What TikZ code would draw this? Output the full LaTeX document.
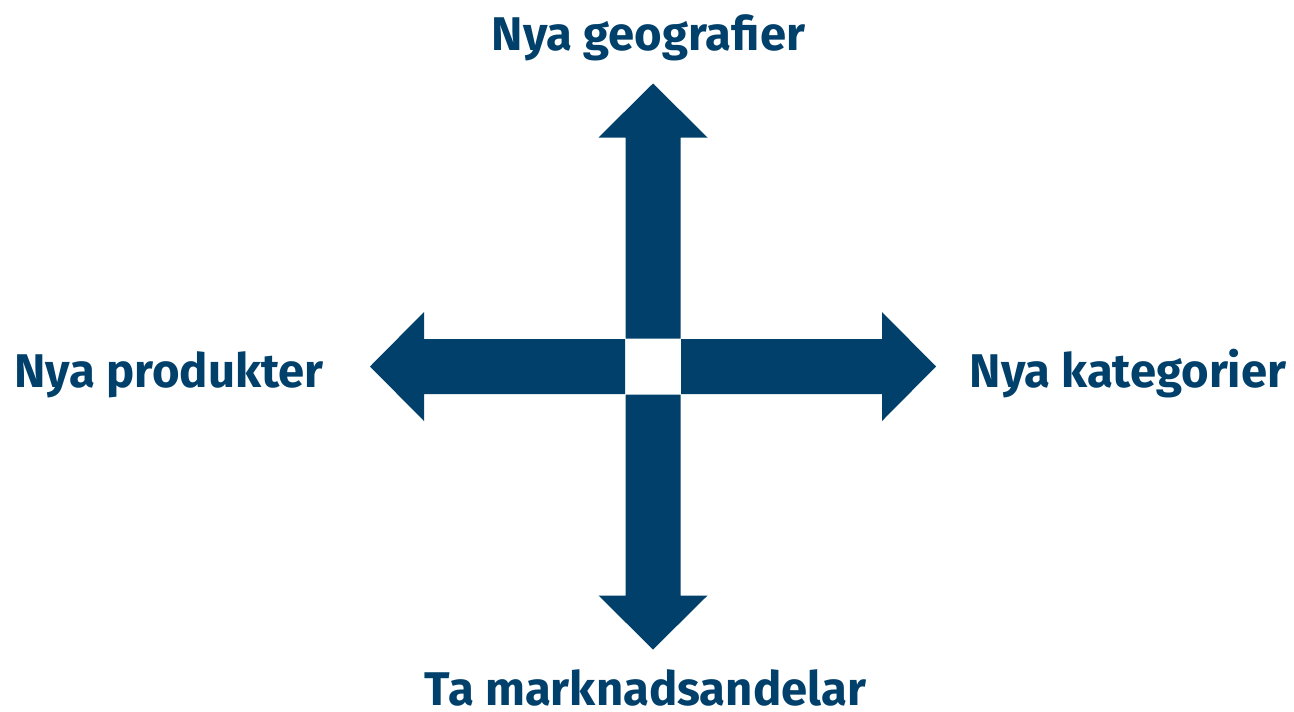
\documentclass[tikz,border=0pt]{standalone}
\usepackage{fontspec}
\setmainfont{Fira Sans}
\definecolor{myblue}{RGB}{1,64,106}

\begin{document}
\begin{tikzpicture}[x=0.02cm, y=-0.02cm,
    label/.style={anchor=base, color=myblue, font=\fontsize{26.9}{30}\selectfont\bfseries}]
    \useasboundingbox (0, 0) rectangle (1294, 711);
    % The four arrows around the centre gap.
    \coordinate (mid) at (653, 366.5);
    \foreach \ang in {0, 90, 180, 270} {
        \begin{scope}[shift={(mid)}, rotate=\ang]
            \fill[myblue] (28, -27.5) -- (229, -27.5) -- (229, -54.5)
                -- (283, 0) -- (229, 54.5) -- (229, 27.5) -- (28, 27.5) -- cycle;
        \end{scope}
    }
    % Labels at the arrow tips.
    \node[label] (geo) at (648.5, 50) {Nya geografier};
    \node[label] (prod) at (169, 387) {Nya produkter};
    \node[label] (kat) at (1128, 387) {Nya kategorier};
    \node[label] (andel) at (645.5, 705) {Ta marknadsandelar};
\end{tikzpicture}
\end{document}
